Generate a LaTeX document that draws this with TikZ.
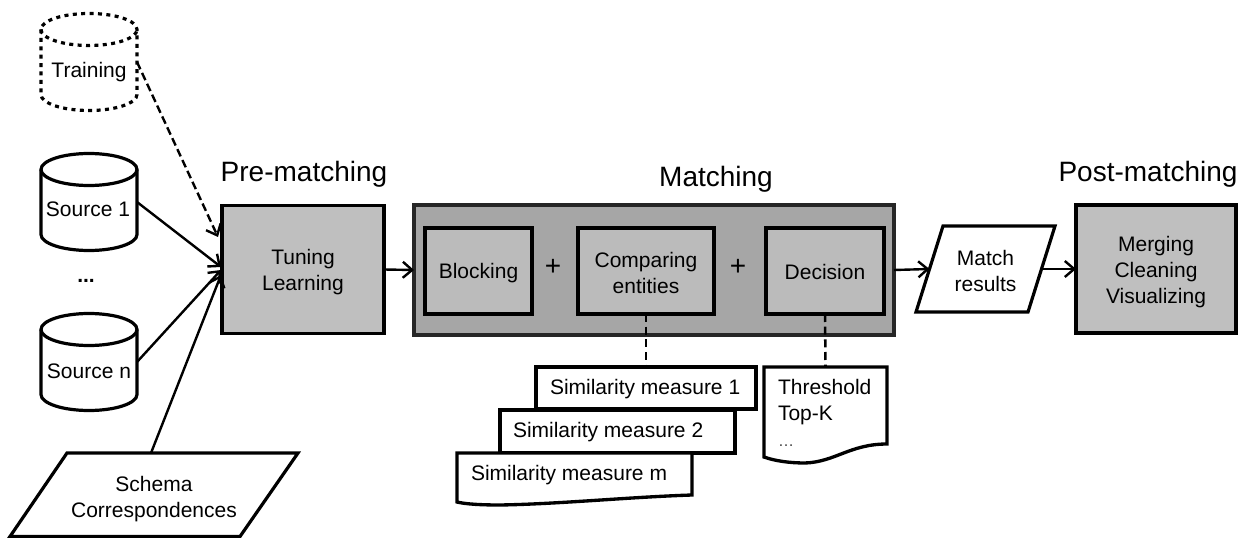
\documentclass[tikz,border=0pt]{standalone}
\usepackage{fontspec}
\setmainfont{Liberation Sans}
\usetikzlibrary{arrows.meta}
\definecolor{boxgray}{HTML}{BFBFBF}
\definecolor{outergray}{HTML}{A6A6A6}
\definecolor{innergray}{HTML}{BBBBBB}
\newcommand{\pad}[1]{\rule{0pt}{#1}}
\tikzset{
  every node/.style={outer sep=0pt,inner sep=0pt,align=center,font=\fontsize{15.75}{19.5}\selectfont},
  sized/.style 2 args={minimum width=#1*0.75pt,minimum height=#2*0.75pt},
  stagebox/.style={draw=black,line width=2.6pt,fill=boxgray,rectangle},
  outerbox/.style={draw=black!85,line width=2.6pt,fill=outergray,rectangle},
  innerbox/.style={draw=black,line width=2.6pt,fill=innergray,rectangle},
  heading/.style={anchor=base,font=\fontsize{21}{25}\selectfont},
  dbframe/.style={rectangle,sized={96}{97}},
  dbline/.style={draw=black,line width=2.4pt,fill=white},
  dotline/.style={dash pattern=on 3pt off 3.3pt},
  slantline/.style={draw=black,line width=2.4pt,fill=white,line join=miter},
  paper/.style={rectangle,draw=black,line width=2.5pt,fill=white},
  paperedge/.style={draw=black,line width=2.5pt,fill=white,line join=miter},
  flow/.style={draw=black,line width=1.8pt,-{Straight Barb[length=7pt,width=12pt,line width=1.8pt]}},
  flowdash/.style={flow,dash pattern=on 6pt off 3pt},
  tie/.style={draw=black,line width=1.9pt,dash pattern=on 6pt off 3.5pt},
  plain/.style={inner sep=0pt}
}
% cylinder outline round a named frame node
\newcommand{\dbdrum}[2][]{%
  \path[dbline,#1] ([yshift=-12pt]#2.north west) -- ([yshift=12pt]#2.south west)
     arc[start angle=180,end angle=360,x radius=36pt,y radius=12pt]
     -- ([yshift=-12pt]#2.north east)
     arc[start angle=0,end angle=180,x radius=36pt,y radius=12pt] -- cycle;
  \path[dbline,fill=none,#1] ([yshift=-12pt]#2.north west)
     arc[start angle=180,end angle=360,x radius=36pt,y radius=12pt];
}
\begin{document}
\begin{tikzpicture}[x=0.75pt,y=-0.75pt]
\useasboundingbox (0,0) rectangle (1252,538);
% sources
\node[dbframe] (train) at (89,62) {};
\node[dbframe] (s1) at (89,202) {};
\node[dbframe] (sn) at (89,362) {};
\dbdrum[dotline]{train}
\dbdrum{s1}
\dbdrum{sn}
\node[plain,anchor=base] (trainlabel) at (89,78) {Training};
\node[plain,anchor=base] (s1label) at (88,217) {Source 1};
\node[plain,anchor=base] (snlabel) at (89,378) {Source n};
\node[plain,font=\fontsize{15.75}{19.5}\selectfont\bfseries] (dots) at (86,281) {...};
\path[slantline] (67,453) -- (298,453) -- (240,536.5) -- (10,536.5) -- cycle;
\node[plain] (schema) at (154,495) {\pad{17.3pt}Schema\\Correspondences};
\coordinate (schemaout) at (151,453);
% headings
\node[heading] (hpre) at (304,182) {Pre-matching};
\node[heading] (hmatch) at (716,187) {Matching};
\node[heading] (hpost) at (1148,182) {Post-matching};
% stages
\node[stagebox,sized={162}{128}] (tune) at (303,269.5) {\pad{15.8pt}Tuning\\Learning};
\coordinate (tunea) at (218,237);
\coordinate (tuneb) at (221,267);
\coordinate (tunec) at (221,270);
\coordinate (tuned) at (221,275);
\node[outerbox,sized={480}{130}] (match) at (654,270) {};
\node[innerbox,sized={107}{86}] (block) at (478.5,271) {\pad{14.4pt}Blocking};
\node[innerbox,sized={136}{86}] (comp) at (646,271) {\pad{14.3pt}Comparing\\entities};
\node[innerbox,sized={118}{86}] (dec) at (825,271) {\pad{12.9pt}Decision};
\node[plain,font=\fontsize{21}{25}\selectfont] (plus1) at (553,267) {+};
\node[plain,font=\fontsize{21}{25}\selectfont] (plus2) at (738,267) {+};
\path[slantline] (943,226) -- (1055,226) -- (1028,312) -- (916,312) -- cycle;
\node[plain] (res) at (985.5,269) {\pad{14.3pt}Match\\results};
\coordinate (resin) at (929.5,269);
\coordinate (resout) at (1041.5,269);
\node[stagebox,sized={160}{128}] (post) at (1156,269) {\pad{15.8pt}Merging\\Cleaning\\Visualizing};
% similarity documents
\node[paper,sized={220}{42}] (sim1) at (646,388) {};
\node[plain,anchor=base west] (sim1t) at (550,394) {Similarity measure 1};
\node[paper,sized={235}{43}] (sim2) at (617.5,431.5) {};
\node[plain,anchor=base west] (sim2t) at (513,437) {Similarity measure 2};
\path[paperedge] (457,453) -- (692,453) -- (692,495) .. controls (630,497) and (560,504) .. (500,505) .. controls (480,505) and (465,504) .. (457,502) -- cycle;
\node[plain,anchor=base west] (simmt) at (471,480) {Similarity measure m};
\path[paperedge] (764,367) -- (887,367) -- (887,444) .. controls (850,444) and (835,462) .. (805,463) .. controls (790,463) and (775,461) .. (764,457) -- cycle;
\node[plain,minimum width=92.25pt,minimum height=1pt,anchor=north] (thr) at (825.5,367) {};
\node[plain,anchor=north west,align=left] (thrt) at (778,379) {Threshold\\Top-K\\{\fontsize{12}{19.5}\selectfont\color{black!75}…}};
% connectors
\draw[flowdash] (train.east) -- (tunea);
\draw[flow] (s1.east) -- (tuneb);
\draw[flow] (sn.east) -- (tunec);
\draw[flow] (schemaout) -- (tuned);
\draw[flow] (tune.east) -- (match.west);
\draw[flow] (match.east) -- (resin);
\draw[flow] (resout) -- (post.west);
\draw[tie] (comp.south) -- (sim1.north);
\draw[tie] (dec.south) -- (thr.north);
\end{tikzpicture}
\end{document}
